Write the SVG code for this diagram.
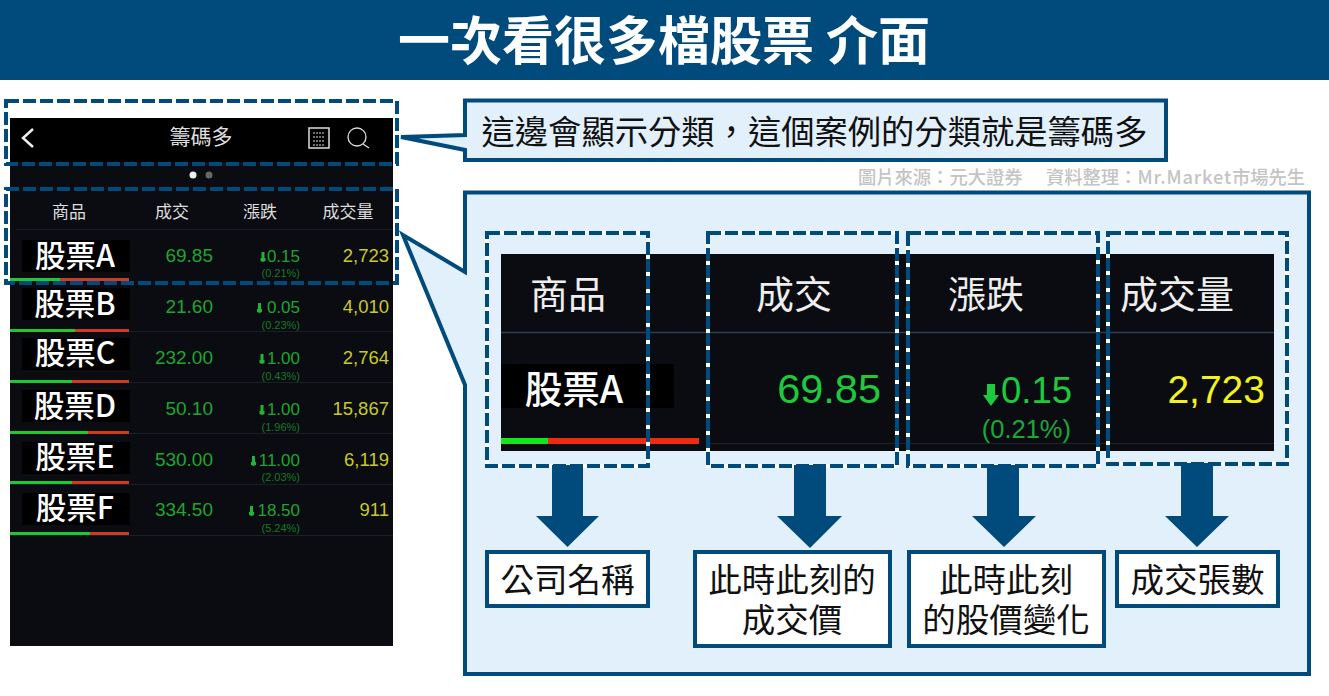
<svg xmlns="http://www.w3.org/2000/svg" width="1329" height="696" viewBox="0 0 1329 696">
<style>
text{font-family:"Noto Sans CJK TC","Liberation Sans",sans-serif}
.num{font-family:"Liberation Sans","Noto Sans CJK TC",sans-serif}
.callout{fill:#e2f0fc;stroke:#004b7c;stroke-width:4;stroke-linejoin:miter}
.dash{fill:none;stroke:#004b7c;stroke-width:4;stroke-dasharray:13 4}
.under{fill:none;stroke:#fff;stroke-width:4}
.lbl{fill:#fff;stroke:#004b7c;stroke-width:4}
.lt{fill:#111;font-size:33.500px;text-anchor:middle}
.arrow{fill:#004b7c}
.hd{fill:#ddd;font-size:17px;text-anchor:middle}
.bighd{fill:#eee;font-size:38px;text-anchor:middle}
.name{fill:#fff;font-size:30.500px;text-anchor:middle;font-weight:500}
.g{fill:#1fa52f;font-size:19px;text-anchor:end}
.c{fill:#1fa52f;font-size:17px;text-anchor:end}
.p{fill:#167a25;font-size:11px;text-anchor:end}
.y{fill:#c9c92a;font-size:18.500px;text-anchor:end}
.sep{stroke:#1b1f27;stroke-width:1}
.gb{fill:#1ec82e}.rb{fill:#cf3a20}
.ka{fill:#1fb535}
</style>
<defs>
<polygon id="mini" points="-1.500,-5 1.500,-5 1.500,1 2.500,1 2.500,4 0,5 -2.500,4 -2.500,1 -1.500,1"/>
</defs>
<rect width="1329" height="696" fill="#fff"/>
<g id="title">
<rect width="1329" height="80" fill="#004b7c"/>
<text x="664" y="60" fill="#fff" font-size="52" font-weight="700" text-anchor="middle">一次看很多檔股票 介面</text>
</g>
<g id="phone">
<rect x="10" y="118" width="383" height="528" fill="#0a0c12"/>
<rect x="10" y="118" width="383" height="44" fill="#000"/>
<path d="M33 129 L23 138 L33 147" fill="none" stroke="#eee" stroke-width="2.500"/>
<text x="201" y="144" fill="#ddd" font-size="21" text-anchor="middle">籌碼多</text>
<rect x="309" y="128" width="20" height="20" fill="none" stroke="#ddd" stroke-width="1.500"/>
<path d="M313 133H325M313 137H325M313 141H325M313 145H325" stroke="#ddd" stroke-width="1.200" stroke-dasharray="2 1"/>
<circle cx="357" cy="137" r="9" fill="none" stroke="#ddd" stroke-width="1.300"/>
<path d="M363 144L369 148" stroke="#ddd" stroke-width="1.300"/>
<circle cx="193" cy="175" r="3.500" fill="#eee"/><circle cx="209" cy="175" r="3.500" fill="#666"/>
<text class="hd" x="69" y="218">商品</text><text class="hd" x="172" y="218">成交</text><text class="hd" x="260" y="218">漲跌</text><text class="hd" x="348" y="218">成交量</text>
<path class="sep" d="M16 229.500H393M10 331.500H393M10 382.500H393M10 433.500H393M10 484.500H393M10 535.500H393"/>
</g>
<g id="row-a">
<rect x="22" y="240" width="108" height="32" fill="#000"/><text class="name" x="75" y="267">股票A</text>
<text class="g num" x="213" y="262">69.85</text><use href="#mini" x="263" y="257" class="ka"/><text class="c num" x="300" y="262">0.15</text><text class="p num" x="300" y="277">(0.21%)</text><text class="y num" x="389" y="262">2,723</text>
<rect class="gb" x="10" y="278" width="50" height="3"/><rect class="rb" x="60" y="278" width="69" height="3"/>
</g>
<g id="row-b">
<rect x="22" y="288" width="108" height="32" fill="#000"/><text class="name" x="75" y="315">股票B</text>
<text class="g num" x="213" y="313">21.60</text><use href="#mini" x="259.500" y="308" class="ka"/><text class="c num" x="300" y="313">0.05</text><text class="p num" x="300" y="329">(0.23%)</text><text class="y num" x="389" y="313">4,010</text>
<rect class="gb" x="10" y="329" width="65" height="3"/><rect class="rb" x="75" y="329" width="54" height="3"/>
</g>
<g id="row-c">
<rect x="22" y="338" width="108" height="32" fill="#000"/><text class="name" x="75" y="364">股票C</text>
<text class="g num" x="213" y="364">232.00</text><use href="#mini" x="262" y="359" class="ka"/><text class="c num" x="300" y="364">1.00</text><text class="p num" x="300" y="380">(0.43%)</text><text class="y num" x="389" y="364">2,764</text>
<rect class="gb" x="10" y="380" width="62" height="3"/><rect class="rb" x="72" y="380" width="57" height="3"/>
</g>
<g id="row-d">
<rect x="22" y="390" width="108" height="32" fill="#000"/><text class="name" x="75" y="417">股票D</text>
<text class="g num" x="213" y="415">50.10</text><use href="#mini" x="262" y="410" class="ka"/><text class="c num" x="300" y="415">1.00</text><text class="p num" x="300" y="431">(1.96%)</text><text class="y num" x="389" y="415">15,867</text>
<rect class="gb" x="10" y="431" width="78" height="3"/><rect class="rb" x="88" y="431" width="41" height="3"/>
</g>
<g id="row-e">
<rect x="22" y="442" width="108" height="32" fill="#000"/><text class="name" x="75" y="468">股票E</text>
<text class="g num" x="213" y="466">530.00</text><use href="#mini" x="253.500" y="461" class="ka"/><text class="c num" x="300" y="466">11.00</text><text class="p num" x="300" y="481">(2.03%)</text><text class="y num" x="389" y="466">6,119</text>
<rect class="gb" x="10" y="481" width="62" height="3"/><rect class="rb" x="72" y="481" width="57" height="3"/>
</g>
<g id="row-f">
<rect x="22" y="493" width="108" height="32" fill="#000"/><text class="name" x="75" y="519">股票F</text>
<text class="g num" x="213" y="516">334.50</text><use href="#mini" x="251.500" y="511" class="ka"/><text class="c num" x="300" y="516">18.50</text><text class="p num" x="300" y="532">(5.24%)</text><text class="y num" x="389" y="516">911</text>
<rect class="gb" x="10" y="532" width="80" height="3"/><rect class="rb" x="90" y="532" width="39" height="3"/>
</g>
<g id="phone-highlights">
<rect class="dash" x="6" y="101" width="391" height="63"/>
<rect class="dash" x="6" y="189" width="391" height="94"/>
</g>
<g id="callout-top">
<path class="callout" d="M465 100.500H1166V160H465V150L401 137L465 135Z"/>
<text x="814.500" y="144" fill="#111" font-size="33.300" text-anchor="middle">這邊會顯示分類&#xFF0C;這個案例的分類就是籌碼多</text>
</g>
<text id="source" y="184" fill="#c4c4c4" font-size="18.300" font-weight="500"><tspan x="858">圖片來源&#xFF1A;元大證券</tspan><tspan x="1046">資料整理&#xFF1A;</tspan><tspan letter-spacing="0.8">Mr.Market</tspan>市場先生</text>
<g id="callout-detail">
<path class="callout" d="M465 192.500H1309V674H465V385L403 235L465 272Z"/>
</g>
<g id="detail-panel">
<rect x="501" y="254" width="773" height="197" fill="#0a0c12"/>
<path d="M501 332.500H1274" stroke="#2c3e50" stroke-width="1.500"/>
<path d="M708 443.500H1274" stroke="#1e2229" stroke-width="1"/>
<rect x="501" y="364" width="173" height="44" fill="#000"/>
<rect x="501" y="438" width="47" height="6" fill="#14e61e"/><rect x="548" y="438" width="151" height="6" fill="#f02a0c"/>
<text class="bighd" x="568" y="308">商品</text><text class="bighd" x="794" y="308">成交</text><text class="bighd" x="986" y="308">漲跌</text><text class="bighd" x="1177" y="308">成交量</text>
<text x="574" y="403" fill="#fff" font-size="37.500" font-weight="500" text-anchor="middle">股票A</text>
<text class="num" x="881" y="403" fill="#1ccb3c" font-size="41.500" text-anchor="end">69.85</text>
<text class="num" x="1072" y="403" fill="#1ccb3c" font-size="36.500" text-anchor="end">0.15</text>
<polygon points="987,384 995,384 995,395 999,395 991,406 983,395 987,395" fill="#1ccb3c"/>
<text class="num" x="1071" y="438" fill="#1aa838" font-size="25.500" text-anchor="end">(0.21%)</text>
<text class="num" x="1265" y="403" fill="#f2f21e" font-size="39" text-anchor="end">2,723</text>
</g>
<g id="detail-highlights">
<rect class="under" x="487" y="233" width="161" height="233"/><rect class="dash" x="487" y="233" width="161" height="233"/>
<rect class="under" x="708" y="233" width="189" height="233"/><rect class="dash" x="708" y="233" width="189" height="233"/>
<rect class="under" x="908" y="233" width="190" height="233"/><rect class="dash" x="908" y="233" width="190" height="233"/>
<rect class="under" x="1108" y="233" width="179" height="231"/><rect class="dash" x="1108" y="233" width="179" height="231"/>
</g>
<g id="connectors">
<polygon class="arrow" points="552,465 583,465 583,516 599,516 567.500,547 536,516 552,516"/>
<polygon class="arrow" points="794,465 826,465 826,516 842,516 810,548 777,516 794,516"/>
<polygon class="arrow" points="987,465 1019,465 1019,516 1036,516 1004,547 972,516 987,516"/>
<polygon class="arrow" points="1181,463 1213,463 1213,516 1229,516 1197,547 1165,516 1181,516"/>
</g>
<g id="label-name"><rect class="lbl" x="487" y="552" width="161" height="54"/><text class="lt" x="567.500" y="592">公司名稱</text></g>
<g id="label-price"><rect class="lbl" x="695" y="552" width="195" height="94"/><text class="lt"><tspan x="792" y="592">此時此刻的</tspan><tspan x="792" y="632">成交價</tspan></text></g>
<g id="label-change"><rect class="lbl" x="909" y="552" width="195" height="94"/><text class="lt"><tspan x="1006" y="592">此時此刻</tspan><tspan x="1006" y="632">的股價變化</tspan></text></g>
<g id="label-volume"><rect class="lbl" x="1117" y="552" width="161" height="54"/><text class="lt" x="1197.500" y="592">成交張數</text></g>
</svg>
